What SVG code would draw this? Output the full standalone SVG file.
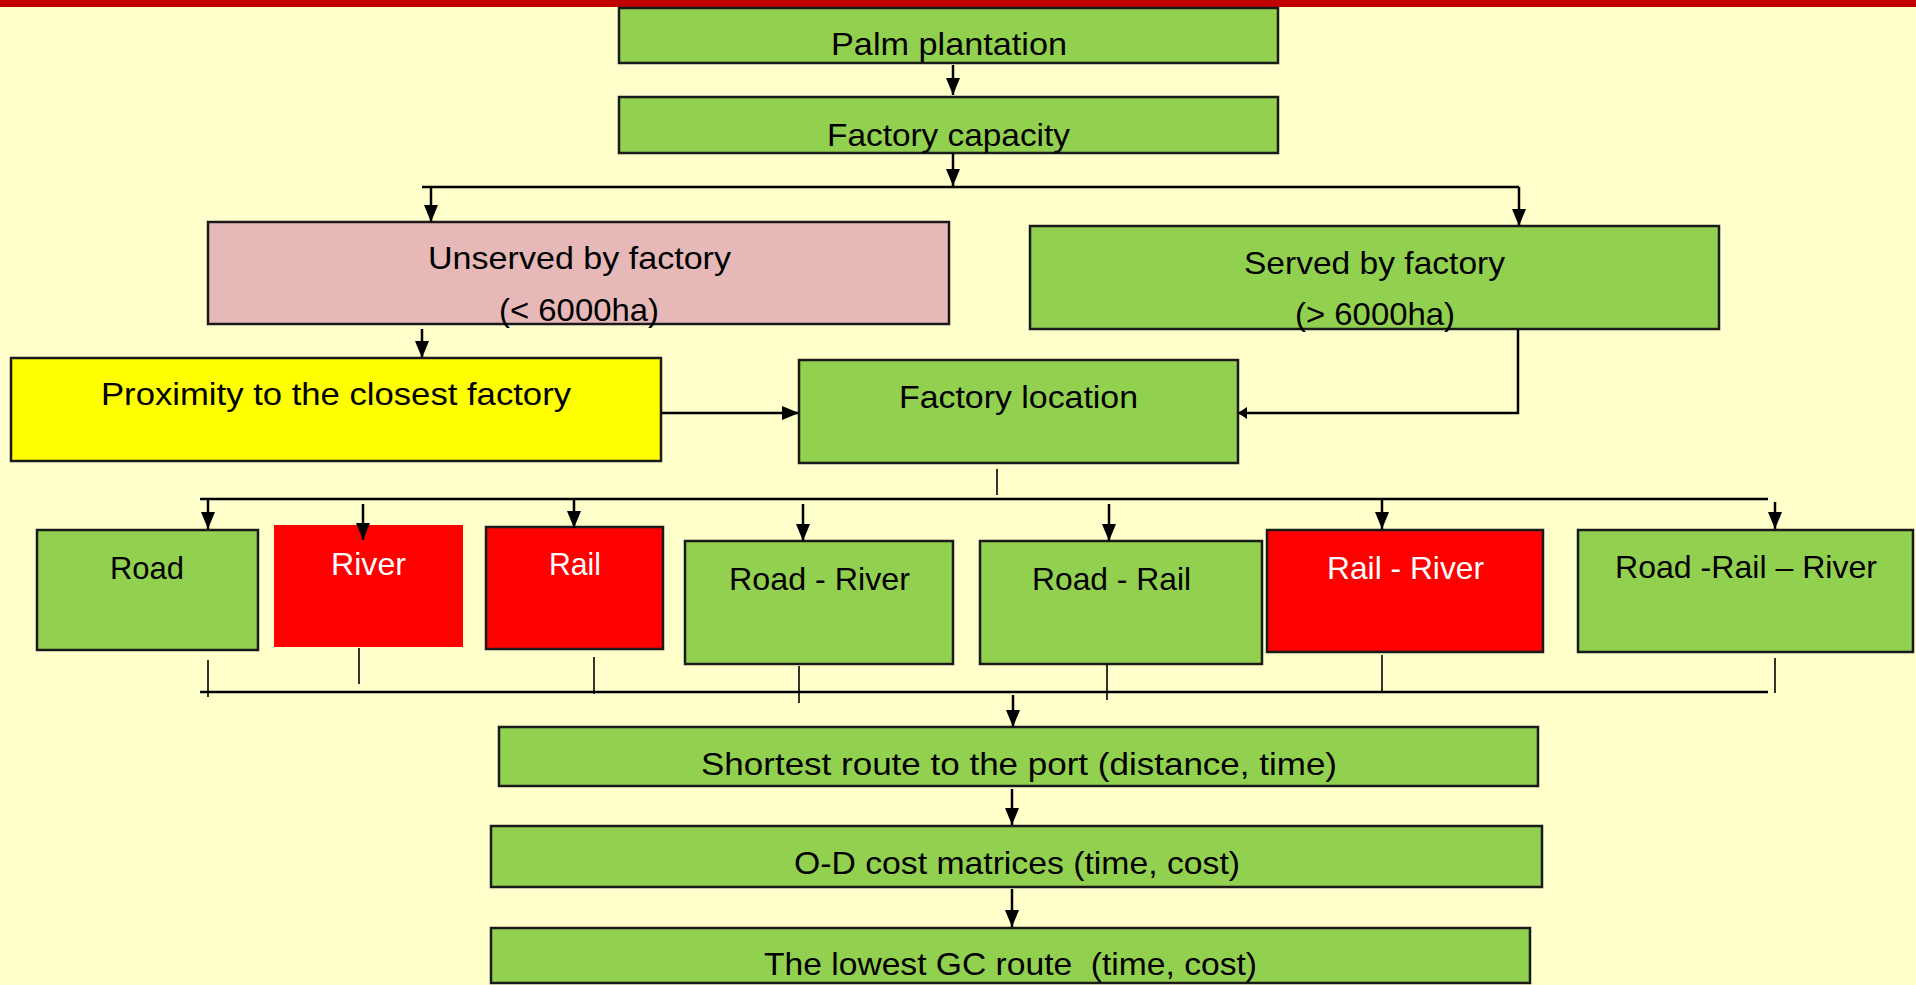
<svg xmlns="http://www.w3.org/2000/svg" width="1916" height="985" viewBox="0 0 1916 985">
<style>
.box{stroke:#1a1a1a;stroke-width:2.5}
.g{fill:#92D050}
.r{fill:#FF0000}
.t{font-family:"Liberation Sans",Arial,sans-serif;font-size:32px;fill:#000}
.w{fill:#fff}
.c{stroke:#000;stroke-width:2.5;fill:none}
.tk{stroke:#000;stroke-width:1.6;fill:none}
</style>
<defs>
<marker id="ah" markerUnits="userSpaceOnUse" markerWidth="18" markerHeight="16" refX="17" refY="7" orient="auto">
<path d="M0,0 L17,7 L0,14 Z" fill="#000"/>
</marker>
<marker id="ahs" markerUnits="userSpaceOnUse" markerWidth="9" markerHeight="14" refX="9" refY="6" orient="auto">
<path d="M0,0 L9,6 L0,12 Z" fill="#000"/>
</marker>
</defs>
<rect x="0" y="0" width="1916" height="985" fill="#FFFFCC"/>
<rect x="0" y="0" width="1916" height="7" fill="#C00000"/>

<g id="palm">
<rect class="box g" x="619" y="8" width="659" height="55"/>
<text class="t" x="831" y="55" textLength="236" lengthAdjust="spacingAndGlyphs">Palm plantation</text>
</g>
<g id="capacity">
<rect class="box g" x="619" y="97" width="659" height="56"/>
<text class="t" x="827" y="146" textLength="243" lengthAdjust="spacingAndGlyphs">Factory capacity</text>
</g>
<g id="unserved">
<rect class="box" fill="#E6B8B7" x="208" y="222" width="741" height="102"/>
<text class="t" x="428" y="269" textLength="303" lengthAdjust="spacingAndGlyphs">Unserved by factory</text>
<text class="t" x="499" y="321" textLength="160" lengthAdjust="spacingAndGlyphs">(&lt; 6000ha)</text>
</g>
<g id="served">
<rect class="box g" x="1030" y="226" width="689" height="103"/>
<text class="t" x="1244" y="274" textLength="261" lengthAdjust="spacingAndGlyphs">Served by factory</text>
<text class="t" x="1295" y="325" textLength="160" lengthAdjust="spacingAndGlyphs">(&gt; 6000ha)</text>
</g>
<g id="proximity">
<rect class="box" fill="#FFFF00" x="11" y="358" width="650" height="103"/>
<text class="t" x="101" y="405" textLength="470" lengthAdjust="spacingAndGlyphs">Proximity to the closest factory</text>
</g>
<g id="location">
<rect class="box g" x="799" y="360" width="439" height="103"/>
<text class="t" x="899" y="408" textLength="239" lengthAdjust="spacingAndGlyphs">Factory location</text>
</g>
<g id="road">
<rect class="box g" x="37" y="530" width="221" height="120"/>
<text class="t" x="110" y="579" textLength="74" lengthAdjust="spacingAndGlyphs">Road</text>
</g>
<g id="river">
<rect class="r" x="274" y="525" width="189" height="122"/>
<text class="t w" x="331" y="575" textLength="75" lengthAdjust="spacingAndGlyphs">River</text>
</g>
<g id="rail">
<rect class="box r" x="486" y="527" width="177" height="122"/>
<text class="t w" x="549" y="575" textLength="52" lengthAdjust="spacingAndGlyphs">Rail</text>
</g>
<g id="road-river">
<rect class="box g" x="685" y="541" width="268" height="123"/>
<text class="t" x="729" y="590" textLength="181" lengthAdjust="spacingAndGlyphs">Road - River</text>
</g>
<g id="road-rail">
<rect class="box g" x="980" y="541" width="282" height="123"/>
<text class="t" x="1032" y="590" textLength="159" lengthAdjust="spacingAndGlyphs">Road - Rail</text>
</g>
<g id="rail-river">
<rect class="box r" x="1267" y="530" width="276" height="122"/>
<text class="t w" x="1327" y="579" textLength="157" lengthAdjust="spacingAndGlyphs">Rail - River</text>
</g>
<g id="road-rail-river">
<rect class="box g" x="1578" y="530" width="335" height="122"/>
<text class="t" x="1615" y="578" textLength="262" lengthAdjust="spacingAndGlyphs">Road -Rail – River</text>
</g>
<g id="shortest">
<rect class="box g" x="499" y="727" width="1039" height="59"/>
<text class="t" x="701" y="775" textLength="636" lengthAdjust="spacingAndGlyphs">Shortest route to the port (distance, time)</text>
</g>
<g id="od">
<rect class="box g" x="491" y="826" width="1051" height="61"/>
<text class="t" x="794" y="874" textLength="446" lengthAdjust="spacingAndGlyphs">O-D cost matrices (time, cost)</text>
</g>
<g id="lowest">
<rect class="box g" x="491" y="928" width="1039" height="55"/>
<text class="t" x="764" y="975" textLength="493" lengthAdjust="spacingAndGlyphs" style="white-space:pre">The lowest GC route  (time, cost)</text>
</g>

<g id="connectors">
<line class="c" x1="953" y1="65" x2="953" y2="95" marker-end="url(#ah)"/>
<line class="c" x1="953" y1="153" x2="953" y2="186" marker-end="url(#ah)"/>
<line class="c" x1="422" y1="187" x2="1519" y2="187"/>
<line class="c" x1="431" y1="187" x2="431" y2="222" marker-end="url(#ah)"/>
<line class="c" x1="1519" y1="187" x2="1519" y2="226" marker-end="url(#ah)"/>
<line class="c" x1="422" y1="329" x2="422" y2="358" marker-end="url(#ah)"/>
<line class="c" x1="661" y1="413" x2="799" y2="413" marker-end="url(#ah)"/>
<polyline class="c" points="1518,329 1518,413 1238,413" marker-end="url(#ahs)"/>
<line class="tk" x1="997" y1="469" x2="997" y2="495"/>
<line class="c" x1="200" y1="499" x2="1768" y2="499"/>
<line class="c" x1="208" y1="499" x2="208" y2="529" marker-end="url(#ah)"/>
<line class="c" x1="363" y1="504" x2="363" y2="540" marker-end="url(#ah)"/>
<line class="c" x1="574" y1="499" x2="574" y2="528" marker-end="url(#ah)"/>
<line class="c" x1="803" y1="504" x2="803" y2="541" marker-end="url(#ah)"/>
<line class="c" x1="1109" y1="504" x2="1109" y2="541" marker-end="url(#ah)"/>
<line class="c" x1="1382" y1="499" x2="1382" y2="529" marker-end="url(#ah)"/>
<line class="c" x1="1775" y1="502" x2="1775" y2="529" marker-end="url(#ah)"/>
<line class="tk" x1="208" y1="660" x2="208" y2="697"/>
<line class="tk" x1="359" y1="648" x2="359" y2="684"/>
<line class="tk" x1="594" y1="657" x2="594" y2="694"/>
<line class="tk" x1="799" y1="666" x2="799" y2="703"/>
<line class="tk" x1="1107" y1="664" x2="1107" y2="700"/>
<line class="tk" x1="1382" y1="655" x2="1382" y2="692"/>
<line class="tk" x1="1775" y1="658" x2="1775" y2="693"/>
<line class="c" x1="200" y1="692" x2="1768" y2="692"/>
<line class="c" x1="1013" y1="695" x2="1013" y2="727" marker-end="url(#ah)"/>
<line class="c" x1="1012" y1="789" x2="1012" y2="825" marker-end="url(#ah)"/>
<line class="c" x1="1012" y1="889" x2="1012" y2="927" marker-end="url(#ah)"/>
</g>
</svg>
